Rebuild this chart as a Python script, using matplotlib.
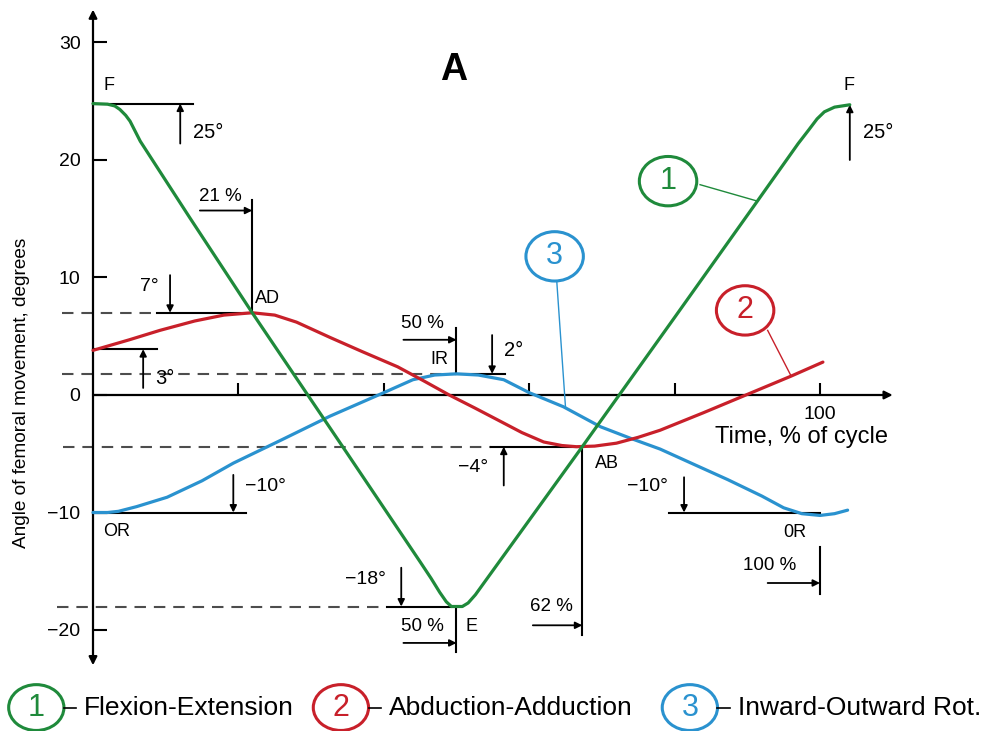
import matplotlib
matplotlib.use("Agg")
import matplotlib.pyplot as plt
from matplotlib.patches import Ellipse

# Femoral angles over the gait cycle (time in % of cycle, angle in degrees)
fe_t = [0, 2, 3, 3.7, 4.5, 5.1, 6.5, 8.8, 13.3, 21.9, 35, 45, 46.5, 47.7, 48.6, 49.3, 50.8, 51.6, 52.6,
        67.3, 80, 91.5, 97, 98.5, 99.6, 100.6, 102, 104.1]
fe_a = [24.8, 24.75, 24.6, 24.3, 23.8, 23.3, 21.6, 19.4, 15.1, 7.0, -5.0, -14.2, -15.6, -16.8, -17.6, -18, -18, -17.7, -17.0,
        -4.4, 6.6, 16.6, 21.4, 22.6, 23.5, 24.1, 24.5, 24.7]

aa_t = [0, 5, 9.2, 14, 18, 21.9, 25, 28, 32.6, 37, 41.9, 45.5, 49, 52.5, 55.6, 59, 62,
        64.5, 66.5, 69, 72, 75, 78, 84, 90, 96, 100.4]
aa_a = [3.8, 4.7, 5.5, 6.3, 6.8, 7.0, 6.8, 6.2, 4.9, 3.7, 2.4, 1.2, 0.0, -1.1, -2.1, -3.2, -4.0,
        -4.3, -4.4, -4.35, -4.1, -3.6, -3.0, -1.5, 0.05, 1.6, 2.8]

ir_t = [0, 2, 3.5, 6, 10.2, 15, 19.3, 26, 32.6, 40, 44, 47, 50, 53, 56.5, 60, 64.7, 69.8,
        74, 78, 83, 87.3, 92, 95, 97.5, 100, 102, 103.8]
ir_a = [-10, -10, -9.9, -9.5, -8.7, -7.3, -5.8, -3.8, -1.8, 0.2, 1.3, 1.7, 1.8, 1.7, 1.3, 0.2, -1.0, -2.7,
        -3.7, -4.6, -6.0, -7.2, -8.6, -9.6, -10.1, -10.25, -10.1, -9.8]

series_names = ["Flexion-Extension", "Abduction-Adduction", "Inward-Outward Rot."]
series_colors = ["#1f8a3b", "#c8202a", "#2a92cf"]

y_ticks = [-20, -10, 0, 10, 20, 30]
x_ticks = [20, 40, 60, 80, 100]
x_tick_labels = ["", "", "", "", "100"]

FONT = "Liberation Sans"

fig = plt.figure(figsize=(9.95, 7.31), dpi=100)
# axes box in pixels: x from 5.8 to 929, y from 1.4 to 677 (top-down)
ax = fig.add_axes([5.76 / 995, (731 - 677) / 731, (929.05 - 5.76) / 995, (677 - 1.375) / 731])
ax.set_xlim(-12, 115)
ax.set_ylim(-24, 33.5)

for side in ["top", "right"]:
    ax.spines[side].set_visible(False)
for side in ["left", "bottom"]:
    ax.spines[side].set_position(("data", 0))
    ax.spines[side].set_visible(False)

ax.set_yticks(y_ticks, ["\u221220" if v == -20 else "\u221210" if v == -10 else str(v) for v in y_ticks])
ax.set_xticks(x_ticks, x_tick_labels)
ax.tick_params(axis="y", direction="in", length=10, width=1.5, pad=9, labelsize=14)
ax.tick_params(axis="x", direction="in", length=8.5, width=1.5, pad=8, labelsize=14)
for lab in ax.get_xticklabels() + ax.get_yticklabels():
    lab.set_fontfamily(FONT)

# axis lines with arrow heads
ax.annotate("", xy=(0, 32.8), xytext=(0, -23.0),
            arrowprops=dict(arrowstyle="<|-|>", lw=1.6, color="black", mutation_scale=12,
                            shrinkA=0, shrinkB=0))
ax.annotate("", xy=(110, 0), xytext=(0, 0),
            arrowprops=dict(arrowstyle="-|>", lw=1.6, color="black", mutation_scale=12,
                            shrinkA=0, shrinkB=0))

# dashed guide lines and solid reference lines
dash = dict(color="#4d4d4d", lw=1.5, ls=(0, (5.5, 3.8)), clip_on=False)
solid = dict(color="black", lw=1.5, clip_on=False)
ax.plot([-4.3, 8.8], [7.0, 7.0], **dash)
ax.plot([8.8, 21.9], [7.0, 7.0], **solid)
ax.plot([-4.3, 50], [1.8, 1.8], **dash)
ax.plot([50, 56.7], [1.8, 1.8], **solid)
ax.plot([-4.1, 54.7], [-4.4, -4.4], **dash)
ax.plot([54.7, 67.3], [-4.4, -4.4], **solid)
ax.plot([-5, 40.5], [-18, -18], **dash)
ax.plot([40.5, 49.3], [-18, -18], **solid)
ax.plot([0, 13.8], [24.8, 24.8], **solid)
ax.plot([0, 8.8], [3.9, 3.9], **solid)
ax.plot([0, 21.1], [-10, -10], **solid)
ax.plot([79.2, 100], [-10, -10], **solid)

# vertical marker lines
ax.plot([21.9, 21.9], [7.0, 16.6], **solid)
ax.plot([50, 50], [1.8, 5.7], **solid)
ax.plot([67.3, 67.3], [-4.4, -20.4], **solid)
ax.plot([50, 50], [-18, -21.9], **solid)
ax.plot([100, 100], [-12.9, -16.9], **solid)

# small dimension arrows (tail -> head)
arrows = [
    ((12.0, 21.4), (12.0, 24.8)),
    ((14.7, 15.7), (21.9, 15.7)),
    ((10.6, 10.2), (10.6, 7.0)),
    ((6.9, 0.6), (6.9, 3.9)),
    ((19.3, -6.8), (19.3, -10)),
    ((42.7, 4.7), (50, 4.7)),
    ((54.9, 5.1), (54.9, 1.8)),
    ((56.5, -7.7), (56.5, -4.4)),
    ((42.4, -14.7), (42.4, -18)),
    ((42.7, -21.1), (50, -21.1)),
    ((60.5, -19.6), (67.3, -19.6)),
    ((81.3, -7.0), (81.3, -10)),
    ((92.8, -16.0), (100, -16.0)),
    ((104.1, 20.0), (104.1, 24.7)),
]
for tail, head in arrows:
    ax.annotate("", xy=head, xytext=tail,
                arrowprops=dict(arrowstyle="-|>", lw=1.3, color="black", mutation_scale=10,
                                shrinkA=0, shrinkB=0))

# curves
ax.plot(ir_t, ir_a, color=series_colors[2], lw=2.3, solid_capstyle="round", zorder=3)
ax.plot(aa_t, aa_a, color=series_colors[1], lw=2.3, solid_capstyle="round", zorder=4)
ax.plot(fe_t, fe_a, color=series_colors[0], lw=2.3, solid_capstyle="round", zorder=5)

# text labels: (text, x, y, alignment, size)
labels = [
    ("F", 1.4, 26.3, "left", 13), ("25°", 13.8, 22.3, "left", 14.5), ("21 %", 17.5, 16.9, "center", 13.5),
    ("7°", 7.8, 9.2, "center", 14), ("AD", 22.3, 8.2, "left", 13), ("3°", 8.5, 1.4, "left", 14.5),
    ("\u221210°", 20.9, -7.8, "left", 14), ("OR", 1.4, -11.6, "left", 13),
    ("50 %", 45.3, 6.1, "center", 13.5), ("IR", 48.9, 3.0, "right", 13), ("2°", 56.5, 3.8, "left", 14.5),
    ("\u22124°", 52.3, -6.2, "center", 14), ("AB", 69.1, -5.8, "left", 13),
    ("\u221218°", 37.5, -15.7, "center", 14), ("50 %", 45.3, -19.7, "center", 13.5),
    ("E", 51.2, -19.7, "left", 13), ("62 %", 63.1, -18.0, "center", 13.5),
    ("\u221210°", 73.5, -7.8, "left", 14), ("0R", 94.9, -11.7, "left", 13),
    ("100 %", 93.1, -14.5, "center", 13.5), ("F", 104.0, 26.3, "center", 13),
    ("25°", 105.9, 22.3, "left", 14.5),
]
for txt, x, y, ha, size in labels:
    ax.text(x, y, txt, ha=ha, va="center", fontsize=size, family=FONT, zorder=6)

ax.text(49.6, 27.7, "A", ha="center", va="center", fontsize=27, fontweight="bold", family=FONT)
ax.text(97.4, -3.6, "Time, % of cycle", ha="center", va="center", fontsize=17, family=FONT)
ax.text(-9.77, 0.2, "Angle of femoral movement, degrees", rotation=90, ha="center", va="center",
        fontsize=13.7, family=FONT)

# numbered callouts on the curves
callouts = [
    ("1", 0, (79.1, 18.2), (83.5, 17.9), (91.4, 16.5)),
    ("3", 2, (63.5, 11.8), (63.8, 9.6), (65.0, -1.1)),
    ("2", 1, (89.7, 7.2), (92.8, 5.5), (96.0, 1.65)),
]
for num, i, (cx, cy), start, end in callouts:
    c = series_colors[i]
    ax.add_patch(Ellipse((cx, cy), 7.9, 4.2, fill=False, edgecolor=c, lw=2.2, zorder=6))
    ax.text(cx, cy, num, ha="center", va="center", fontsize=22, color=c, family=FONT, zorder=6)
    ax.plot([start[0], end[0]], [start[1], end[1]], color=c, lw=1.0, zorder=6)

# legend row below the plot
legend_x = [-7.8, 34.1, 82.1]
for i, (lx, name) in enumerate(zip(legend_x, series_names)):
    c = series_colors[i]
    ax.add_patch(Ellipse((lx, -26.6), 7.6, 3.9, fill=False, edgecolor=c, lw=2.2, clip_on=False))
    ax.text(lx, -26.6, str(i + 1), ha="center", va="center", fontsize=22, color=c,
            family=FONT, clip_on=False)
    ax.plot([lx + 3.8, lx + 5.5], [-26.6, -26.6], color="black", lw=1.2, clip_on=False)
    ax.text(lx + 6.6, -26.6, name, ha="left", va="center", fontsize=19, family=FONT)

fig.savefig("out.png", dpi=100)
